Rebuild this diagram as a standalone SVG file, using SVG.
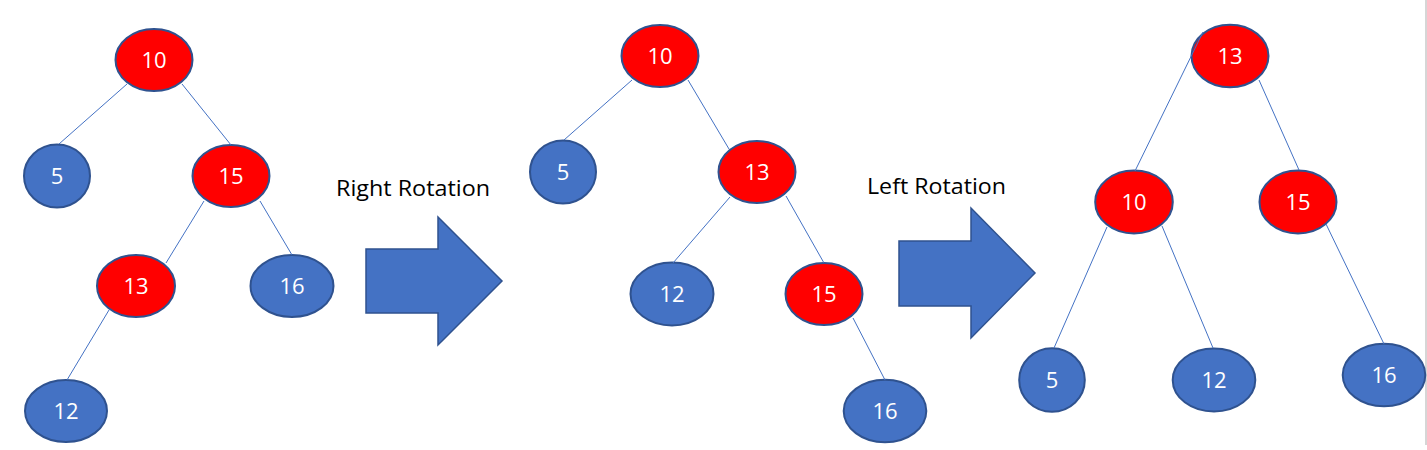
<svg xmlns="http://www.w3.org/2000/svg" width="1427" height="450" viewBox="0 0 1427 450">
<style>
.red{fill:#FF0000;stroke:#2F528F;stroke-width:2}
.blue{fill:#4472C4;stroke:#2F528F;stroke-width:2}
.lbl{font-family:"Open Sans","Liberation Sans",sans-serif;font-size:22px;fill:#FFFFFF;text-anchor:middle}
.cap{font-family:"Open Sans","Liberation Sans",sans-serif;font-size:21px;fill:#000000}
.edge{stroke:#4472C4;stroke-width:1;fill:none}
.arrow{fill:#4472C4;stroke:#2F528F;stroke-width:1.5}
</style>
<rect width="1427" height="450" fill="#FFFFFF"/>
<line x1="1426" y1="0" x2="1426" y2="445" stroke="#C8C8C8" stroke-width="1.5"/>

<!-- Tree 1 -->
<g id="t1-n10"><ellipse class="red" cx="154" cy="60" rx="38.5" ry="31"/><text class="lbl" x="154" y="68">10</text></g>
<g id="t1-n5"><ellipse class="blue" cx="57" cy="176" rx="33" ry="31.5"/><text class="lbl" x="57" y="184">5</text></g>
<g id="t1-n15"><ellipse class="red" cx="231" cy="176" rx="38.5" ry="31"/><text class="lbl" x="231" y="184">15</text></g>
<g id="t1-n13"><ellipse class="red" cx="136" cy="286" rx="39" ry="31"/><text class="lbl" x="136" y="294">13</text></g>
<g id="t1-n16"><ellipse class="blue" cx="292" cy="286" rx="41.5" ry="31"/><text class="lbl" x="292" y="294">16</text></g>
<g id="t1-n12"><ellipse class="blue" cx="66" cy="411" rx="41" ry="31"/><text class="lbl" x="66" y="419">12</text></g>

<!-- Tree 2 -->
<g id="t2-n10"><ellipse class="red" cx="660" cy="56" rx="38.5" ry="31"/><text class="lbl" x="660" y="64">10</text></g>
<g id="t2-n5"><ellipse class="blue" cx="563" cy="172" rx="33" ry="31.5"/><text class="lbl" x="563" y="180">5</text></g>
<g id="t2-n13"><ellipse class="red" cx="757" cy="172" rx="38.5" ry="31"/><text class="lbl" x="757" y="180">13</text></g>
<g id="t2-n12"><ellipse class="blue" cx="672" cy="294" rx="41.5" ry="31.5"/><text class="lbl" x="672" y="302">12</text></g>
<g id="t2-n15"><ellipse class="red" cx="824" cy="294" rx="38.5" ry="31"/><text class="lbl" x="824" y="302">15</text></g>
<g id="t2-n16"><ellipse class="blue" cx="885" cy="411" rx="41.3" ry="31.3"/><text class="lbl" x="885" y="419">16</text></g>

<!-- Tree 3 -->
<g id="t3-n13"><ellipse class="red" cx="1230" cy="56" rx="38.5" ry="31.3"/><text class="lbl" x="1230" y="64">13</text></g>
<g id="t3-n10"><ellipse class="red" cx="1134" cy="202" rx="38.8" ry="31.5"/><text class="lbl" x="1134" y="210">10</text></g>
<g id="t3-n15"><ellipse class="red" cx="1298" cy="202" rx="38.5" ry="31.5"/><text class="lbl" x="1298" y="210">15</text></g>
<g id="t3-n5"><ellipse class="blue" cx="1052" cy="380" rx="32.8" ry="31.7"/><text class="lbl" x="1052" y="388">5</text></g>
<g id="t3-n12"><ellipse class="blue" cx="1214" cy="380" rx="41.3" ry="31.5"/><text class="lbl" x="1214" y="388">12</text></g>
<g id="t3-n16"><ellipse class="blue" cx="1384" cy="375" rx="41.3" ry="31.3"/><text class="lbl" x="1384" y="383">16</text></g>

<!-- Rotation arrows -->
<g id="right-rotation">
<polygon class="arrow" points="366,249 438,249 438,217 502,281 438,345 438,313 366,313"/>
<text class="cap" x="336" y="196" textLength="154" lengthAdjust="spacingAndGlyphs">Right Rotation</text>
</g>
<g id="left-rotation">
<polygon class="arrow" points="899,241 971,241 971,208 1035,273 971,338 971,306 899,306"/>
<text class="cap" x="867" y="194" textLength="139" lengthAdjust="spacingAndGlyphs">Left Rotation</text>
</g>

<g id="connectors">
<line class="edge" x1="127" y1="84" x2="59" y2="144"/>
<line class="edge" x1="182" y1="84" x2="231" y2="145"/>
<line class="edge" x1="204" y1="201" x2="166" y2="263"/>
<line class="edge" x1="260" y1="201" x2="292" y2="255"/>
<line class="edge" x1="109" y1="310" x2="67" y2="380"/>

<line class="edge" x1="632" y1="80" x2="564" y2="140"/>
<line class="edge" x1="688" y1="80" x2="729" y2="149"/>
<line class="edge" x1="730" y1="197" x2="673" y2="263"/>
<line class="edge" x1="786" y1="196" x2="824" y2="263"/>
<line class="edge" x1="853" y1="318" x2="885" y2="380"/>

<line class="edge" x1="1203" y1="32" x2="1135" y2="171"/>
<line class="edge" x1="1259" y1="80" x2="1299" y2="170"/>
<line class="edge" x1="1107" y1="227" x2="1054" y2="348"/>
<line class="edge" x1="1162" y1="226" x2="1213" y2="348"/>
<line class="edge" x1="1326" y1="224" x2="1384" y2="344"/>
</g>
</svg>
